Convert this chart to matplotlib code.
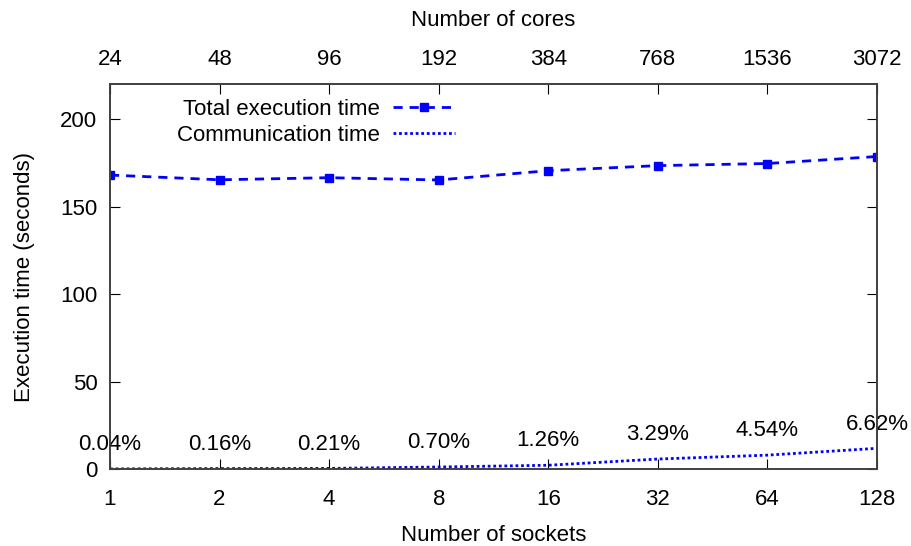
import matplotlib
matplotlib.use("Agg")
import matplotlib.pyplot as plt
import numpy as np

plt.rcParams['font.family'] = ['Liberation Sans', 'DejaVu Sans']

sockets = ["1", "2", "4", "8", "16", "32", "64", "128"]
cores = ["24", "48", "96", "192", "384", "768", "1536", "3072"]
total_time = [168.0, 165.3, 166.5, 165.2, 170.5, 173.4, 174.6, 178.6]
comm_pct = [0.04, 0.16, 0.21, 0.70, 1.26, 3.29, 4.54, 6.62]
comm_labels = ["0.04%", "0.16%", "0.21%", "0.70%", "1.26%", "3.29%", "4.54%", "6.62%"]

comm_time = [t * p / 100.0 for t, p in zip(total_time, comm_pct)]
x = np.arange(len(sockets))
fs = 16

fig = plt.figure(figsize=(9.12, 5.46), dpi=100)
ax = fig.add_axes([0.1206, 0.141, 0.841, 0.705])

ax.plot(x, total_time, color='#0000ff', linestyle=(0, (3.3, 2.5)), linewidth=2,
        marker='s', markersize=6, label="Total execution time")
ax.plot(x, comm_time, color='#0000ff', linestyle=(0, (1, 1)), linewidth=2,
        label="Communication time")

# etiquetas de porcentaje sobre la curva de comunicación
for xi, c, lab in zip(x, comm_time, comm_labels):
    ax.annotate(lab, (xi, c), xytext=(0, 17.5), textcoords='offset points',
                ha='center', va='center', fontsize=fs)

ax.set_xlim(0, len(sockets) - 1)
ax.set_ylim(0, 220)
ax.set_xticks(x)
ax.set_xticklabels(sockets)
ax.set_yticks([0, 50, 100, 150, 200])
ax.tick_params(direction='in', length=7, labelsize=fs, pad=9, right=True)
ax.tick_params(axis='x', pad=14.5)
ax.set_xlabel("Number of sockets", fontsize=fs, labelpad=10.5)
ax.set_ylabel("Execution time (seconds)", fontsize=fs, labelpad=18)

top = ax.twiny()
top.set_xlim(ax.get_xlim())
top.set_xticks(x)
top.set_xticklabels(cores)
top.tick_params(direction='in', length=7, labelsize=fs, pad=10)
top.set_xlabel("Number of cores", fontsize=fs, labelpad=17)

for a in (ax, top):
    for s in a.spines.values():
        s.set_color('#404040')
        s.set_linewidth(1.2)

ax.legend(loc='upper right', bbox_to_anchor=(0.45, 0.962), frameon=False,
          markerfirst=False, fontsize=fs, handlelength=2.8, handletextpad=0.6,
          labelspacing=0.24, borderaxespad=0, borderpad=0)

fig.savefig("out.png", dpi=100)
